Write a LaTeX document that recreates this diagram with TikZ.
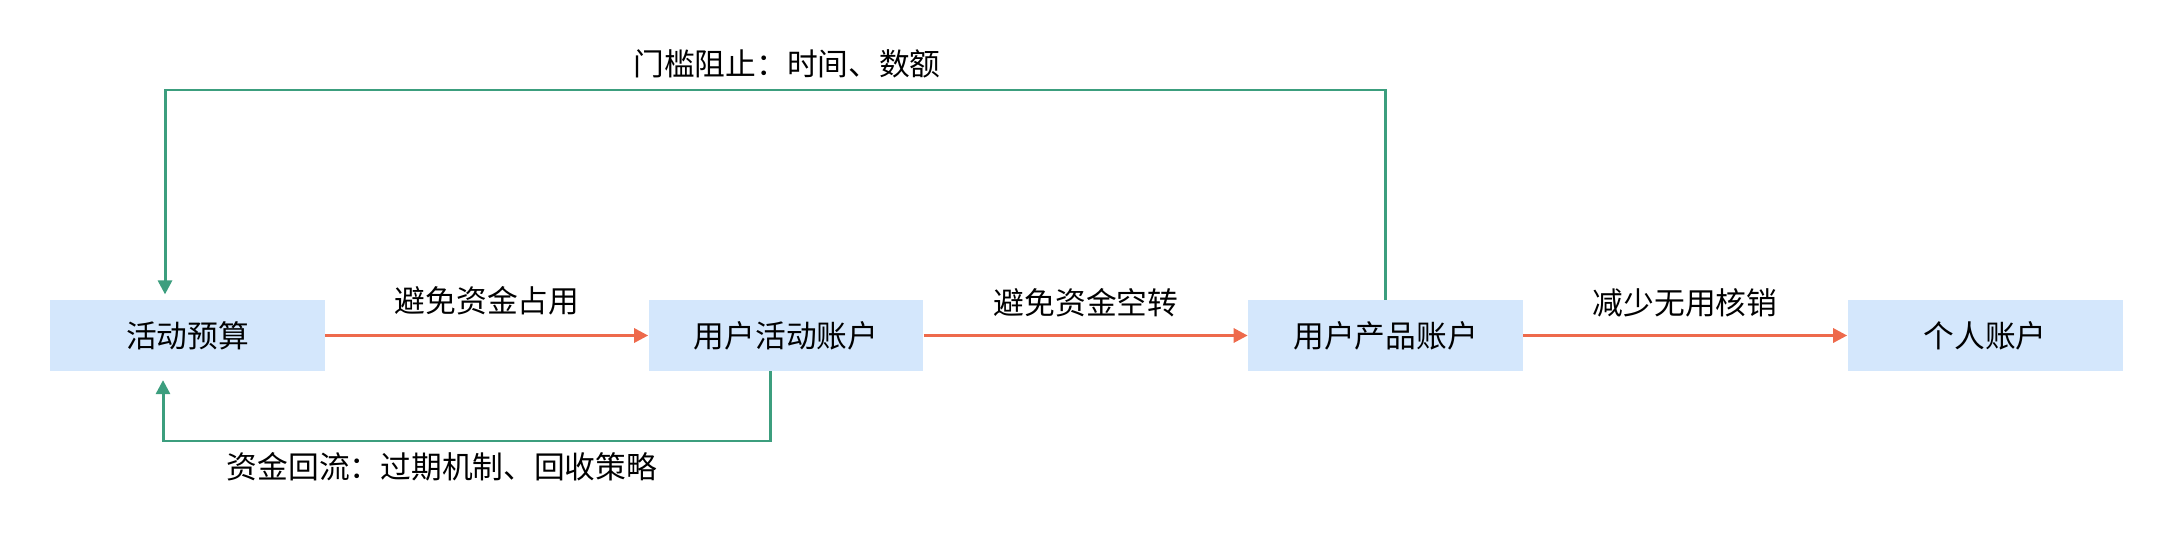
\documentclass[tikz,border=0pt]{standalone}
\usepackage{fontspec}
\setmainfont{Noto Sans CJK SC}
\usetikzlibrary{arrows.meta}
\definecolor{boxblue}{HTML}{D4E7FC}
\definecolor{flowred}{HTML}{EE6A4C}
\definecolor{backgreen}{HTML}{3C9E7E}
\tikzset{
	acct/.style={fill=boxblue,minimum width=5.5cm,minimum height=1.42cm,inner sep=0,font=\fontsize{17.5}{20}\selectfont},
	lbl/.style={inner sep=0,font=\fontsize{17.5}{20}\selectfont},
	flow/.style={draw=flowred,line width=1.7pt,-{Triangle[length=0.28cm,width=0.28cm]}},
	back/.style={draw=backgreen,line width=1.7pt,-{Triangle[length=0.28cm,width=0.28cm]}}
}

\begin{document}
\begin{tikzpicture}[x=0.02cm,y=-0.02cm]
\useasboundingbox (0,0) rectangle (2180,534);
\node[acct] (budget) at (187.5,335.5) {活动预算};
\node[acct] (actacct) at (786,335.5) {用户活动账户};
\node[acct] (prodacct) at (1385.5,335.5) {用户产品账户};
\node[acct] (personal) at (1985,335.5) {个人账户};
\coordinate (topline) at (0,90);
\coordinate (botline) at (0,441);
\draw[flow] (budget) -- (actacct);
\draw[flow] (actacct) -- (prodacct);
\draw[flow] (prodacct) -- (personal);
\node[lbl] (occupy) at (487,301) {避免资金占用};
\node[lbl] (idle) at (1086,303) {避免资金空转};
\node[lbl] (writeoff) at (1685,303) {减少无用核销};
\draw[back,shorten >=3pt] (prodacct.north) -- (prodacct.north |- topline) -| ([xshift=-0.45cm]budget.north);
\draw[back,shorten >=5pt] ([xshift=-0.32cm]actacct.south) -- ([xshift=-0.32cm]actacct.south |- botline) -| ([xshift=-0.49cm]budget.south);
\node[lbl] (threshold) at (787,64) {门槛阻止：时间、数额};
\node[lbl] (reflow) at (442,467) {资金回流：过期机制、回收策略};
\end{tikzpicture}
\end{document}
